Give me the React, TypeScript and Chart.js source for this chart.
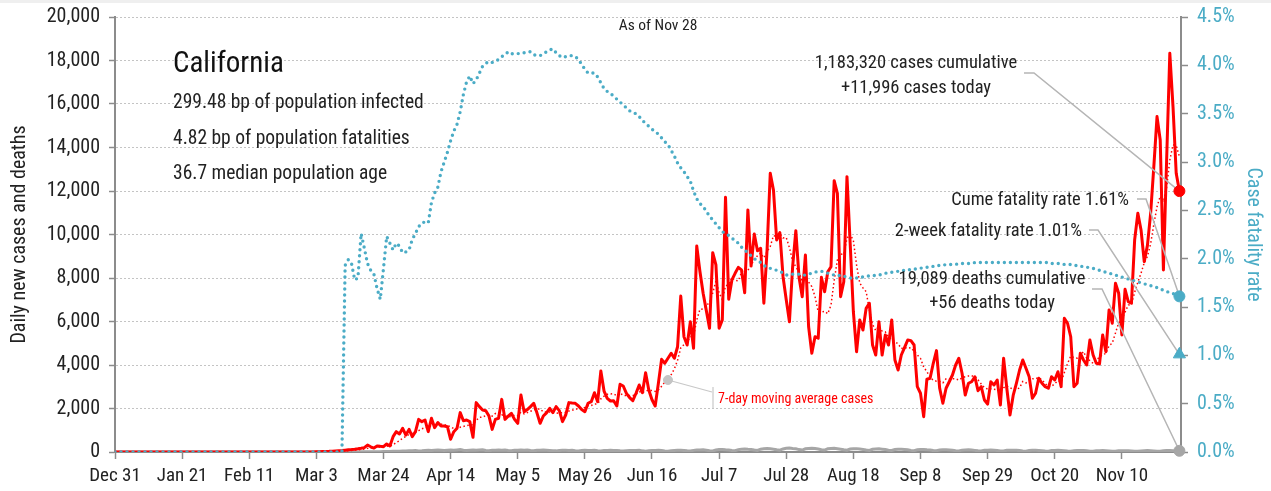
import React, { useEffect, useRef } from "react";
import { Chart, registerables } from "chart.js";

Chart.register(...registerables);

const FONT = '"Roboto Condensed", Roboto, sans-serif';
const RED = "#ff0000";
const TEAL = "#4bacc6";
const AXIS_GREY = "#8c8c8c";
const DEATH_GREY = "#a6a6a6";
const LEADER_GREY = "#b5b5b5";
const TEXT = "#222222";

// ---------- data ----------
const stateName = "California";
const asOfDate = "Nov 28";
const infoLines = [
  "299.48 bp of population infected",
  "4.82 bp of population fatalities",
  "36.7 median population age",
];
const casesCumulative = 1183320;
const casesToday = 11996;
const deathsCumulative = 19089;
const deathsToday = 56;
const cumeFatalityRate = 1.61;
const twoWeekFatalityRate = 1.01;

// x tick positions (days since Dec 31) and labels
const tickDays = [0, 21, 42, 63, 84, 105, 126, 147, 168, 189, 210, 231, 252, 273, 294, 315];
const tickLabels = [
  "Dec 31", "Jan 21", "Feb 11", "Mar 3", "Mar 24", "Apr 14", "May 5", "May 26",
  "Jun 16", "Jul 7", "Jul 28", "Aug 18", "Sep 8", "Sep 29", "Oct 20", "Nov 10",
];

// daily new cases, one value per day from Dec 31 (index 0) to Nov 28 (index 333)
const cases = [
  0, 0, 0, 0, 0, 0, 0, 0, 0, 0,
  0, 0, 0, 0, 0, 0, 0, 0, 0, 0,
  0, 0, 0, 0, 0, 0, 0, 0, 0, 0,
  0, 0, 0, 0, 0, 0, 0, 0, 0, 0,
  0, 0, 0, 0, 0, 0, 0, 0, 0, 0,
  0, 0, 0, 0, 0, 0, 0, 0, 0, 0,
  0, 0, 0, 10, 15, 20, 25, 30, 40, 50,
  60, 70, 85, 100, 110, 125, 145, 170, 200, 320,
  240, 180, 280, 260, 245, 370, 280, 705, 935, 830,
  1090, 780, 1040, 705, 935, 1500, 1395, 1470, 935, 1550,
  1120, 1350, 1195, 1195, 1165, 585, 935, 1090, 1810, 1440,
  1470, 1395, 675, 2270, 2085, 1930, 1900, 1650, 1040, 1500,
  1550, 2420, 1500, 1650, 1780, 1500, 1320, 2620, 1850, 1950,
  2085, 2240, 1800, 1320, 1655, 1800, 2010, 1810, 2085, 1900,
  1395, 1700, 2270, 2250, 2240, 2115, 1950, 1850, 2240, 2315,
  2725, 2315, 3725, 2800, 2470, 2345, 2360, 2115, 3110, 3035,
  2700, 2500, 2360, 2700, 3080, 2725, 3645, 2850, 2400, 2115,
  3160, 4260, 4080, 4310, 4540, 4310, 4840, 7170, 5300, 4920,
  5990, 4770, 9470, 8300, 7300, 6500, 5690, 9165, 8600, 5690,
  6070, 11710, 7020, 7910, 8215, 8490, 8370, 7325, 11130, 8550,
  10020, 9255, 9365, 6840, 9290, 12815, 12050, 9750, 10085, 8060,
  7000, 5990, 8520, 10175, 8030, 7140, 9060, 5760, 4540, 5300,
  5230, 8030, 7370, 8290, 8520, 12475, 11895, 7140, 7830, 12660,
  9595, 6450, 4610, 6070, 5610, 6605, 6840, 4920, 4460, 5990,
  4460, 5380, 4920, 6070, 4230, 3770, 4460, 4800, 5150, 5120,
  4920, 3005, 2700, 1625, 3345, 3390, 4080, 4660, 2930, 2240,
  2930, 3230, 3540, 4000, 4310, 3620, 2620, 3160, 3230, 3460,
  2820, 3005, 2390, 2205, 3230, 3080, 3310, 2160, 4310, 2930,
  1700, 2600, 3160, 3770, 4230, 3850, 3460, 2470, 2700, 3390,
  3160, 3005, 2930, 3460, 3310, 3690, 3005, 6145, 5920, 5300,
  3005, 3160, 4540, 4230, 4000, 5150, 4460, 4080, 4045, 5380,
  4610, 6530, 5920, 7755, 7300, 5380, 7480, 6910, 6840, 9750,
  10975, 10210, 8750, 9500, 10975, 13120, 15420, 14345, 8370, 13400,
  18330, 15880, 12815, 11996,
];

// daily new deaths, same days
const deaths = [
  0, 0, 0, 0, 0, 0, 0, 0, 0, 0,
  0, 0, 0, 0, 0, 0, 0, 0, 0, 0,
  0, 0, 0, 0, 0, 0, 0, 0, 0, 0,
  0, 0, 0, 0, 0, 0, 0, 0, 0, 0,
  0, 0, 0, 0, 0, 0, 0, 0, 0, 0,
  0, 0, 0, 0, 0, 0, 0, 0, 0, 0,
  0, 0, 0, 0, 0, 0, 0, 0, 0, 0,
  1, 2, 1, 3, 2, 4, 5, 6, 8, 7,
  10, 12, 14, 17, 20, 22, 25, 30, 35, 40,
  45, 48, 55, 60, 68, 50, 58, 70, 75, 72,
  85, 95, 80, 68, 78, 88, 80, 95, 110, 82,
  70, 85, 90, 78, 95, 100, 72, 60, 75, 85,
  90, 80, 95, 70, 62, 80, 85, 90, 78, 88,
  68, 55, 75, 80, 95, 82, 70, 60, 52, 70,
  78, 85, 72, 80, 62, 50, 68, 75, 72, 70,
  82, 58, 45, 65, 70, 75, 68, 72, 55, 42,
  60, 68, 72, 65, 75, 52, 40, 62, 65, 70,
  75, 68, 50, 38, 60, 70, 80, 85, 72, 55,
  45, 75, 90, 95, 100, 85, 60, 50, 90, 110,
  120, 105, 95, 70, 60, 110, 130, 140, 125, 115,
  90, 75, 130, 150, 160, 145, 130, 100, 85, 140,
  170, 180, 160, 145, 110, 90, 150, 165, 175, 160,
  140, 105, 88, 145, 160, 170, 150, 130, 100, 82,
  135, 150, 155, 140, 120, 90, 75, 125, 140, 145,
  130, 110, 85, 70, 115, 125, 130, 115, 100, 75,
  60, 100, 110, 115, 100, 90, 65, 55, 95, 100,
  105, 95, 80, 60, 50, 85, 95, 98, 88, 75,
  55, 45, 80, 85, 90, 80, 70, 50, 42, 75,
  80, 85, 75, 65, 48, 40, 70, 75, 80, 70,
  60, 45, 38, 65, 72, 75, 68, 58, 42, 35,
  62, 68, 70, 65, 55, 40, 32, 60, 62, 65,
  60, 50, 38, 30, 55, 58, 62, 55, 48, 36,
  30, 52, 60, 65, 58, 50, 40, 35, 60, 70,
  65, 58, 50, 56,
];

// case fatality rate (%), same days
const caseFatalityRate = [
  0, 0, 0, 0, 0, 0, 0, 0, 0, 0,
  0, 0, 0, 0, 0, 0, 0, 0, 0, 0,
  0, 0, 0, 0, 0, 0, 0, 0, 0, 0,
  0, 0, 0, 0, 0, 0, 0, 0, 0, 0,
  0, 0, 0, 0, 0, 0, 0, 0, 0, 0,
  0, 0, 0, 0, 0, 0, 0, 0, 0, 0,
  0, 0, 0, 0, 0, 0, 0, 0, 0, 0,
  0, 0, 1.93, 1.99, 1.95, 1.78, 1.80, 2.26, 2.11, 1.95,
  1.88, 1.84, 1.69, 1.58, 1.90, 2.23, 2.16, 2.09, 2.16, 2.13,
  2.06, 2.07, 2.09, 2.20, 2.26, 2.33, 2.37, 2.38, 2.37, 2.58,
  2.68, 2.74, 2.90, 3.00, 3.10, 3.22, 3.32, 3.39, 3.52, 3.70,
  3.83, 3.89, 3.81, 3.85, 3.92, 3.99, 4.02, 4.04, 4.03, 4.04,
  4.06, 4.09, 4.11, 4.14, 4.12, 4.12, 4.12, 4.13, 4.13, 4.14,
  4.14, 4.11, 4.10, 4.10, 4.12, 4.14, 4.16, 4.17, 4.13, 4.10,
  4.08, 4.09, 4.10, 4.10, 4.09, 4.06, 4.01, 3.96, 3.92, 3.92,
  3.92, 3.88, 3.82, 3.76, 3.73, 3.71, 3.68, 3.65, 3.62, 3.59,
  3.56, 3.53, 3.51, 3.50, 3.47, 3.43, 3.40, 3.37, 3.34, 3.31,
  3.29, 3.25, 3.21, 3.18, 3.12, 3.06, 2.99, 2.94, 2.90, 2.85,
  2.80, 2.70, 2.62, 2.57, 2.54, 2.49, 2.44, 2.40, 2.36, 2.32,
  2.28, 2.26, 2.24, 2.21, 2.19, 2.16, 2.12, 2.09, 2.06, 2.03,
  2.00, 1.98, 1.96, 1.93, 1.91, 1.90, 1.89, 1.88, 1.87, 1.85,
  1.83, 1.84, 1.84, 1.84, 1.84, 1.83, 1.83, 1.84, 1.85, 1.86,
  1.87, 1.87, 1.86, 1.85, 1.84, 1.83, 1.82, 1.83, 1.82, 1.81,
  1.80, 1.80, 1.80, 1.81, 1.81, 1.82, 1.82, 1.82, 1.83, 1.83,
  1.84, 1.85, 1.85, 1.86, 1.86, 1.87, 1.87, 1.88, 1.88, 1.89,
  1.89, 1.90, 1.90, 1.91, 1.91, 1.92, 1.92, 1.93, 1.93, 1.93,
  1.94, 1.94, 1.94, 1.94, 1.95, 1.95, 1.95, 1.95, 1.95, 1.96,
  1.96, 1.96, 1.96, 1.96, 1.96, 1.96, 1.96, 1.96, 1.96, 1.96,
  1.96, 1.96, 1.96, 1.96, 1.96, 1.96, 1.96, 1.96, 1.96, 1.96,
  1.96, 1.96, 1.96, 1.95, 1.95, 1.95, 1.95, 1.94, 1.94, 1.94,
  1.93, 1.93, 1.92, 1.92, 1.91, 1.91, 1.90, 1.89, 1.88, 1.87,
  1.86, 1.85, 1.84, 1.83, 1.82, 1.81, 1.80, 1.79, 1.78, 1.77,
  1.76, 1.75, 1.74, 1.73, 1.72, 1.71, 1.70, 1.69, 1.67, 1.66,
  1.65, 1.64, 1.62, 1.61,
];

// day on which the "7-day moving average" label points
const avgLabelDay = 173;

// ---------- derived ----------
const lastDay = cases.length - 1;
const movingAvg = cases.map((_, i) => {
  const from = Math.max(0, i - 6);
  const win = cases.slice(from, i + 1);
  return win.reduce((a, b) => a + b, 0) / win.length;
});
const pts = (arr: number[]) => arr.map((v, i) => ({ x: i, y: v }));
const fmt = (n: number) => n.toLocaleString("en-US");

function polyline(ctx: CanvasRenderingContext2D, p: number[][]) {
  ctx.beginPath();
  ctx.moveTo(p[0][0], p[0][1]);
  for (let i = 1; i < p.length; i++) ctx.lineTo(p[i][0], p[i][1]);
  ctx.stroke();
}

const annotationPlugin = {
  id: "covidAnnotations",
  beforeDraw(chart: any) {
    const ctx = chart.ctx;
    ctx.save();
    ctx.fillStyle = "#efefef";
    ctx.fillRect(0, 0, chart.width, 3);
    ctx.restore();
  },
  afterDatasetDraw(chart: any, args: any) {
    const ds = chart.data.datasets[args.index];
    if (!ds.leadersAfter) return;
    const ctx = chart.ctx;
    const xs = chart.scales.x;
    const ys = chart.scales.y;
    const y2 = chart.scales.y2;
    const px = xs.getPixelForValue(lastDay);
    ctx.save();
    ctx.strokeStyle = LEADER_GREY;
    ctx.lineWidth = 1.5;
    polyline(ctx, [[1024, 73], [1034, 73], [px, ys.getPixelForValue(cases[lastDay])]]);
    polyline(ctx, [[1137, 199], [1146, 199], [px, y2.getPixelForValue(cumeFatalityRate)]]);
    polyline(ctx, [[1089, 230], [1098, 230], [px, y2.getPixelForValue(twoWeekFatalityRate)]]);
    polyline(ctx, [[1092, 289], [1102, 289], [px, ys.getPixelForValue(deaths[lastDay])]]);
    ctx.strokeStyle = "#c8c8c8";
    ctx.lineWidth = 1.2;
    const mx = xs.getPixelForValue(avgLabelDay);
    const my = ys.getPixelForValue(movingAvg[avgLabelDay]);
    polyline(ctx, [[mx, my], [712, 392]]);
    polyline(ctx, [[713, 387], [713, 408]]);
    ctx.restore();
  },
  afterDatasetsDraw(chart: any) {
    const ctx = chart.ctx;
    ctx.save();
    ctx.fillStyle = TEXT;
    ctx.textBaseline = "alphabetic";

    ctx.textAlign = "center";
    ctx.font = `15.5px ${FONT}`;
    ctx.fillText(`As of ${asOfDate}`, 658, 30);

    ctx.textAlign = "left";
    ctx.fillStyle = "#111111";
    ctx.font = `29px ${FONT}`;
    ctx.fillText(stateName, 173, 72);
    ctx.fillStyle = TEXT;
    ctx.font = `19.5px ${FONT}`;
    infoLines.forEach((t, i) => ctx.fillText(t, 173, 108 + i * 35.5));

    ctx.font = `18.5px ${FONT}`;
    ctx.textAlign = "center";
    ctx.fillText(`${fmt(casesCumulative)} cases cumulative`, 916, 68);
    ctx.fillText(`+${fmt(casesToday)} cases today`, 916, 93);
    ctx.fillText(`${fmt(deathsCumulative)} deaths cumulative`, 992, 284);
    ctx.fillText(`+${fmt(deathsToday)} deaths today`, 992, 308);
    ctx.textAlign = "right";
    ctx.fillText(`Cume fatality rate ${cumeFatalityRate.toFixed(2)}%`, 1129, 205);
    ctx.fillText(`2-week fatality rate ${twoWeekFatalityRate.toFixed(2)}%`, 1082, 236);

    ctx.textAlign = "left";
    ctx.fillStyle = RED;
    ctx.font = `14px ${FONT}`;
    ctx.fillText("7-day moving average cases", 718, 403);
    ctx.restore();
  },
};

export default function App() {
  const ref = useRef<HTMLCanvasElement>(null);

  useEffect(() => {
    document.body.style.margin = "0";
    const canvas = ref.current;
    if (!canvas) return;
    Chart.defaults.font.family = FONT;
    Chart.defaults.color = TEXT;

    const chart = new Chart(canvas, {
      type: "line",
      data: {
        datasets: [
          {
            label: "Red end marker",
            data: [{ x: lastDay, y: cases[lastDay] }],
            showLine: false,
            pointRadius: 5.5,
            pointBackgroundColor: RED,
            pointBorderColor: RED,
            yAxisID: "y",
            order: -1,
            clip: false,
          } as any,
          {
            label: "Cume fatality marker",
            data: [{ x: lastDay, y: cumeFatalityRate }],
            showLine: false,
            pointRadius: 5.5,
            pointBackgroundColor: TEAL,
            pointBorderColor: TEAL,
            yAxisID: "y2",
            order: -2,
            clip: false,
          },
          {
            label: "2-week fatality marker",
            data: [{ x: lastDay, y: twoWeekFatalityRate }],
            showLine: false,
            pointStyle: "triangle",
            pointRadius: 7,
            pointBackgroundColor: TEAL,
            pointBorderColor: TEAL,
            yAxisID: "y2",
            order: -3,
            clip: false,
          },
          {
            label: "Deaths marker",
            data: [{ x: lastDay, y: deaths[lastDay] }],
            showLine: false,
            pointRadius: 5.5,
            pointBackgroundColor: DEATH_GREY,
            pointBorderColor: DEATH_GREY,
            yAxisID: "y",
            order: -4,
            clip: false,
          },
          {
            label: "Avg label marker",
            data: [{ x: avgLabelDay, y: movingAvg[avgLabelDay] }],
            showLine: false,
            pointRadius: 4.5,
            pointBackgroundColor: "#c4c4c4",
            pointBorderColor: "#c4c4c4",
            yAxisID: "y",
            order: -5,
            clip: false,
          },
          {
            label: "Case fatality rate",
            data: pts(caseFatalityRate),
            borderColor: TEAL,
            borderWidth: 3.4,
            borderDash: [0, 6],
            borderCapStyle: "round",
            pointRadius: 0,
            yAxisID: "y2",
            order: 0,
            leadersAfter: true,
          } as any,
          {
            label: "7-day moving average cases",
            data: pts(movingAvg),
            borderColor: RED,
            borderWidth: 1.5,
            borderDash: [1.5, 2.5],
            pointRadius: 0,
            yAxisID: "y",
            order: 1,
          },
          {
            label: "Daily new cases",
            data: pts(cases),
            borderColor: RED,
            borderWidth: 3,
            borderJoinStyle: "round",
            pointRadius: 0,
            yAxisID: "y",
            order: 2,
          },
          {
            label: "Daily new deaths",
            data: pts(deaths),
            borderColor: DEATH_GREY,
            borderWidth: 3,
            pointRadius: 0,
            yAxisID: "y",
            order: 3,
          },
        ],
      },
      options: {
        responsive: false,
        animation: false,
        devicePixelRatio: 1,
        events: [],
        layout: { padding: { top: 0, left: 0, right: 0, bottom: 0 } },
        plugins: {
          legend: { display: false },
          tooltip: { enabled: false },
        },
        scales: {
          x: {
            type: "linear",
            min: 0,
            max: lastDay + 0.5,
            afterBuildTicks: (scale: any) => {
              scale.ticks = tickDays.map((v) => ({ value: v }));
            },
            afterFit: (scale: any) => {
              scale.height = 39;
            },
            ticks: {
              autoSkip: false,
              maxRotation: 0,
              padding: 6,
              color: TEXT,
              font: { size: 19 },
              callback: (v: any) => {
                const i = tickDays.indexOf(Number(v));
                return i >= 0 ? tickLabels[i] : "";
              },
            },
            grid: {
              drawOnChartArea: false,
              drawTicks: true,
              tickLength: 7,
              tickColor: AXIS_GREY,
              tickWidth: 1.5,
            },
            border: { display: true, color: AXIS_GREY, width: 2 },
          },
          y: {
            type: "linear",
            position: "left",
            min: 0,
            max: 20000,
            afterFit: (scale: any) => {
              scale.width = 115;
            },
            ticks: {
              stepSize: 2000,
              padding: 9,
              color: TEXT,
              font: { size: 20, lineHeight: 0.8 },
              callback: (v: any) => fmt(Number(v)),
            },
            grid: {
              color: "#c4c4c4",
              lineWidth: 1,
              drawTicks: true,
              tickLength: 6,
              tickColor: AXIS_GREY,
              tickWidth: 1.5,
            },
            border: { display: true, color: AXIS_GREY, width: 2, dash: [2, 2] },
            title: {
              display: true,
              text: "Daily new cases and deaths",
              color: TEXT,
              font: { size: 20 },
              padding: { top: 8, bottom: 0 },
            },
          },
          y2: {
            type: "linear",
            position: "right",
            min: 0,
            max: 4.5,
            afterFit: (scale: any) => {
              scale.width = 90;
            },
            ticks: {
              stepSize: 0.5,
              padding: 9,
              color: TEAL,
              font: { size: 20, lineHeight: 0.8 },
              callback: (v: any) => `${Number(v).toFixed(1)}%`,
            },
            grid: {
              drawOnChartArea: false,
              drawTicks: true,
              tickLength: 7,
              tickColor: AXIS_GREY,
              tickWidth: 1.5,
            },
            border: { display: true, color: AXIS_GREY, width: 2 },
            title: {
              display: true,
              text: "Case fatality rate",
              color: TEAL,
              font: { size: 20 },
              padding: { top: 6, bottom: 0 },
            },
          },
        },
      } as any,
      plugins: [annotationPlugin as any],
    });

    return () => chart.destroy();
  }, []);

  return (
    <canvas
      ref={ref}
      width={1271}
      height={491}
      style={{ display: "block", width: 1271, height: 491 }}
    />
  );
}
